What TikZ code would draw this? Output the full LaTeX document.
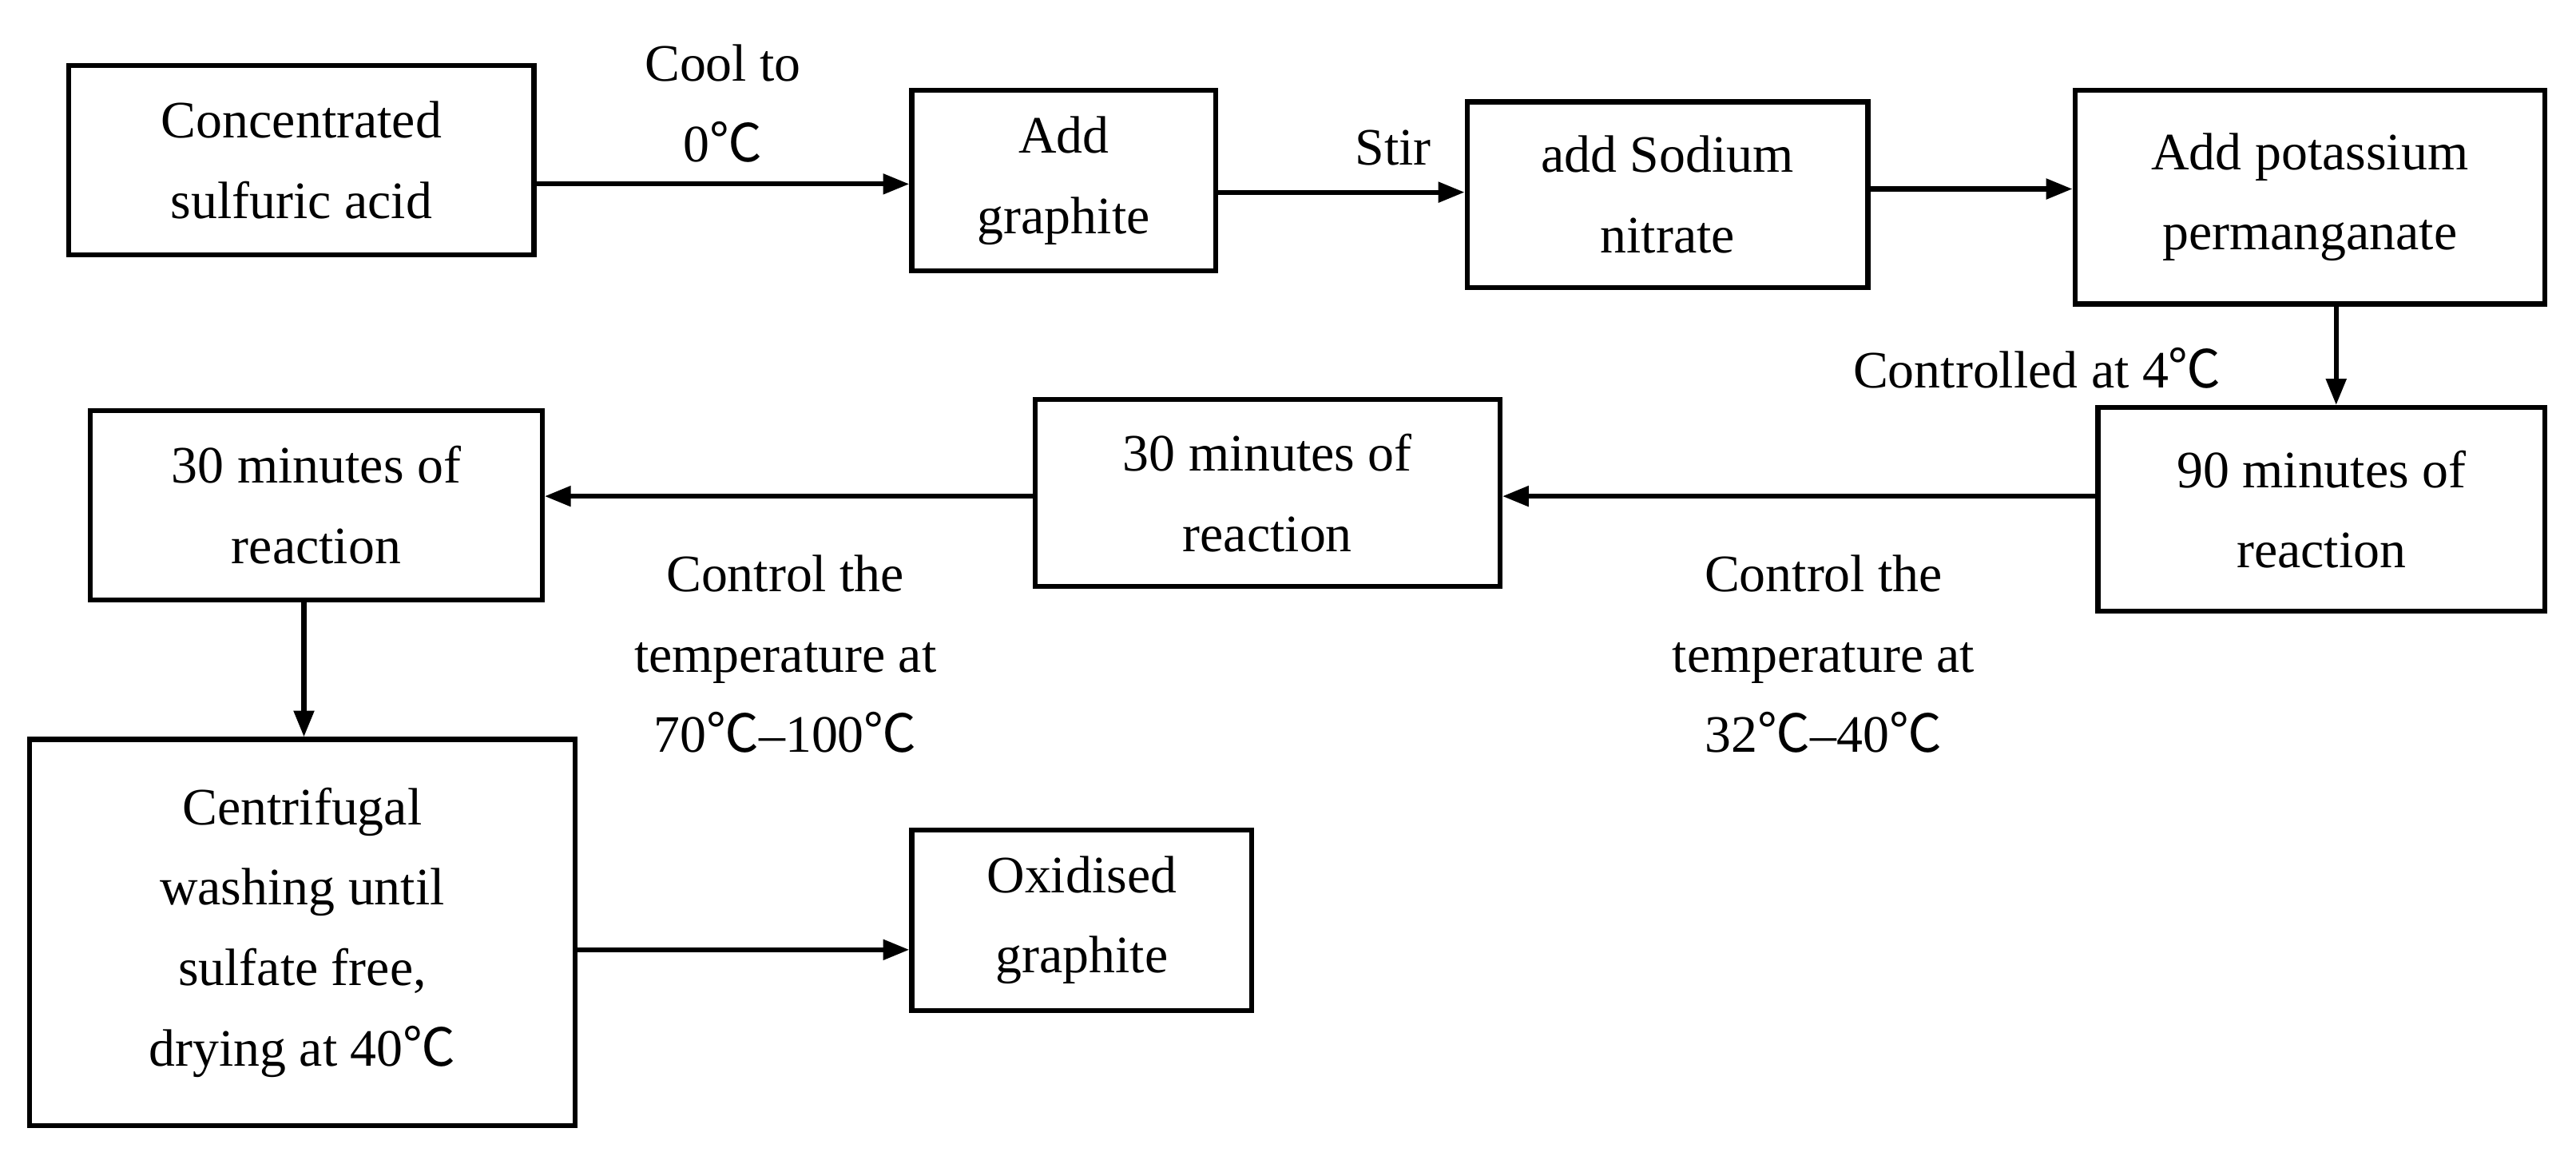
\documentclass[tikz,border=0pt]{standalone}
\usepackage{fontspec}
\setmainfont{Liberation Serif}
\newfontfamily\cjkf{Noto Sans CJK SC}
\newcommand{\dC}{{\cjkf ℃}}
\usetikzlibrary{arrows.meta}
\begin{document}
\begin{tikzpicture}[x=1pt,y=-1pt,
  bx/.style={draw,line width=3pt,align=center,inner sep=0pt},
  lb/.style={align=center,inner sep=0pt},
  ar/.style={line width=3pt,-{Triangle[length=16pt,width=12pt]}},
  every node/.style={font=\fontsize{32}{49}\selectfont}]
\useasboundingbox (0,0) rectangle (1568,701);
\node[bx,minimum width=283,minimum height=115] (a) at (183.5,97.5) {Concentrated\\sulfuric acid};
\node[bx,minimum width=185,minimum height=110] (b) at (647.5,110) {Add\\graphite};
\node[bx,minimum width=244,minimum height=113] (c) at (1015,118.5) {add Sodium\\nitrate};
\node[bx,minimum width=286,minimum height=130] (d) at (1406,120) {Add potassium\\permanganate};
\node[bx,minimum width=272,minimum height=124] (e) at (1413,310) {90 minutes of\\reaction};
\node[bx,minimum width=283,minimum height=114] (f) at (771.5,300) {30 minutes of\\reaction};
\node[bx,minimum width=275,minimum height=115] (g) at (192.5,307.5) {30 minutes of\\reaction};
\node[bx,minimum width=332,minimum height=235] (h) at (184,567.5) {Centrifugal\\washing until\\sulfate free,\\drying at 40\dC};
\node[bx,minimum width=207,minimum height=110] (i) at (658.5,560) {Oxidised\\graphite};
\draw[ar] (a.east|-0,112) -- (b.west|-0,112);
\draw[ar] (b.east|-0,117) -- (c.west|-0,117);
\draw[ar] (c.east|-0,115) -- (d.west|-0,115);
\draw[ar] (1422,0|-d.south) -- (1422,0|-e.north);
\draw[ar] (e.west|-0,302) -- (f.east|-0,302);
\draw[ar] (f.west|-0,302) -- (g.east|-0,302);
\draw[ar] (185,0|-g.south) -- (185,0|-h.north);
\draw[ar] (h.east|-0,578) -- (i.west|-0,578);
\node[lb] (l1) at (440,63) {Cool to\\0\dC};
\node[lb] (l2) at (848,90) {Stir};
\node[lb] (l3) at (1240,224) {Controlled at 4\dC};
\node[lb] (l4) at (1110,398) {Control the\\temperature at\\32\dC--40\dC};
\node[lb] (l5) at (478,398) {Control the\\temperature at\\70\dC--100\dC};
\end{tikzpicture}
\end{document}
